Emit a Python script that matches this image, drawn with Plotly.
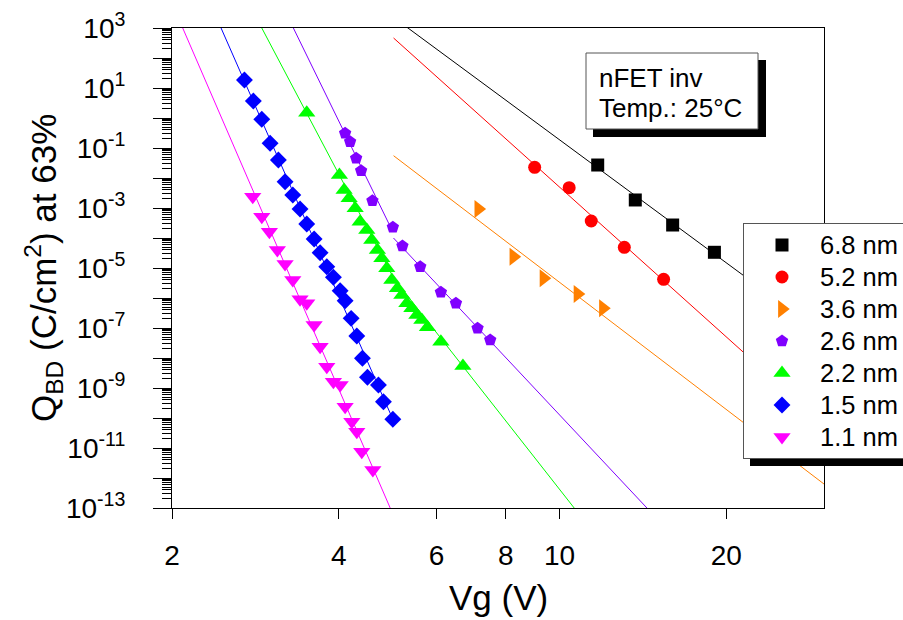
import plotly.graph_objects as go

# ---------------- data ----------------
labels = ["6.8 nm", "5.2 nm", "3.6 nm", "2.6 nm", "2.2 nm", "1.5 nm", "1.1 nm"]

vg_68 = [11.72, 13.70, 16.00, 19.03]
qbd_68 = [2.71e-2, 1.85e-3, 2.71e-4, 3.34e-5]

vg_52 = [9.02, 10.41, 11.41, 13.09, 15.41]
qbd_52 = [2.27e-2, 4.75e-3, 3.69e-4, 4.90e-5, 4.20e-6]

vg_36 = [7.14, 8.26, 9.36, 10.78, 11.98]
qbd_36 = [9.26e-4, 2.38e-5, 4.54e-6, 1.36e-6, 4.54e-7]

vg_26 = [4.105, 4.191, 4.297, 4.387, 4.598, 5.005, 5.208, 5.608, 6.110, 6.504, 7.115, 7.499]
qbd_26 = [3.09e-1, 1.62e-1, 4.54e-2, 1.75e-2, 1.75e-3, 2.27e-4, 5.41e-5, 1.10e-5,
          1.55e-6, 6.65e-7, 9.77e-8, 3.98e-8]

vg_22 = [3.500, 4.009, 4.088, 4.174, 4.280, 4.369, 4.492, 4.586, 4.694, 4.781, 4.881,
         4.984, 5.102, 5.196, 5.305, 5.416, 5.530, 5.646, 5.779, 6.110, 6.696]
qbd_22 = [1.50, 1.26e-2, 3.98e-3, 2.10e-3, 9.77e-4, 3.49e-4, 1.85e-4, 8.57e-5, 3.98e-5,
          2.10e-5, 9.77e-6, 3.98e-6, 2.10e-6, 1.26e-6, 6.65e-7, 4.54e-7, 2.71e-7,
          1.85e-7, 1.05e-7, 3.49e-8, 5.41e-9]

vg_15 = [2.702, 2.804, 2.904, 3.006, 3.111, 3.199, 3.303, 3.404, 3.500, 3.609, 3.700,
         3.804, 3.910, 4.021, 4.105, 4.209, 4.309, 4.411, 4.504, 4.714, 4.813, 5.005]
qbd_15 = [18.5, 3.69, 0.905, 0.1435, 3.98e-2, 7.53e-3, 2.71e-3, 9.26e-4, 2.93e-4,
          9.26e-5, 3.24e-5, 1.10e-5, 4.90e-6, 1.75e-6, 8.13e-7, 2.10e-7, 5.41e-8,
          9.77e-9, 2.27e-9, 1.26e-9, 3.49e-10, 9.06e-11]

vg_11 = [2.797, 2.904, 2.997, 3.098, 3.199, 3.303, 3.404, 3.500, 3.609, 3.700, 3.804,
         3.910, 4.021, 4.105, 4.221, 4.309, 4.399, 4.606]
qbd_11 = [2.38e-3, 5.13e-4, 1.62e-4, 3.98e-5, 1.36e-5, 3.98e-6, 9.05e-7, 6.65e-7,
          1.26e-7, 2.38e-8, 5.13e-9, 1.62e-9, 1.26e-9, 2.38e-10, 7.53e-11, 3.49e-11,
          7.53e-12, 1.85e-12]

# fit lines (end points)
fit_68_v, fit_68_q = [5.02, 30.0], [2.26e3, 5.9e-8]
fit_52_v, fit_52_q = [5.02, 30.0], [464.0, 6.0e-11]
fit_36_v, fit_36_q = [5.02, 30.0], [5.54e-2, 6.3e-13]
fit_26a_v, fit_26a_q = [3.311, 4.95], [1e3, 2.44e-4]
fit_26b_v, fit_26b_q = [5.018, 14.38], [1e-4, 1e-13]
fit_22_v, fit_22_q = [2.904, 5.02, 10.63], [1e3, 4.64e-6, 1e-13]
fit_15_v, fit_15_q = [2.452, 5.005], [1e3, 9.06e-11]
fit_11_v, fit_11_q = [2.091, 4.950], [1e3, 1e-13]

# ---------------- styling ----------------
colors = ["#000000", "#FF0000", "#FF8000", "#8000FF", "#00FF00", "#0000FF", "#FF00FF"]
symbols = ["square", "circle", "triangle-right", "pentagon", "triangle-up", "diamond", "triangle-down"]
sizes = [13, 13, 15.5, 13, 15, 13, 15]

FONT = "Arial, Liberation Sans, sans-serif"

series = [(vg_68, qbd_68), (vg_52, qbd_52), (vg_36, qbd_36), (vg_26, qbd_26),
          (vg_22, qbd_22), (vg_15, qbd_15), (vg_11, qbd_11)]
fits = [[(fit_68_v, fit_68_q)], [(fit_52_v, fit_52_q)], [(fit_36_v, fit_36_q)],
        [(fit_26a_v, fit_26a_q), (fit_26b_v, fit_26b_q)], [(fit_22_v, fit_22_q)],
        [(fit_15_v, fit_15_q)], [(fit_11_v, fit_11_q)]]

fig = go.Figure()
for i, segs in enumerate(fits):
    for fv, fq in segs:
        fig.add_trace(go.Scatter(x=fv, y=fq, mode="lines", showlegend=False,
                                 line=dict(color=colors[i], width=1), hoverinfo="skip"))
for i, (v, q) in enumerate(series):
    fig.add_trace(go.Scatter(
        x=v, y=q, mode="markers",
        name='<span style="font-size:25.5px">%s</span>' % labels[i],
        marker=dict(symbol=symbols[i], size=sizes[i], color=colors[i], line=dict(width=0))))

# plot area in pixels
L, R, T, B = 172, 824, 28, 508
W, H = 903, 620
def px(x):
    return (x - L) / (R - L)
def py(y):
    return (B - y) / (B - T)

major = list(range(-13, 4))
ytext = [("10<sup>%d</sup>" % e) if e % 2 != 0 else "" for e in major]
minor_vals = [m * 10.0 ** e for e in range(-13, 3) for m in range(2, 10)]

fig.update_layout(
    width=W, height=H,
    margin=dict(l=L, r=W - R, t=T, b=H - B, autoexpand=False),
    paper_bgcolor="white", plot_bgcolor="white",
    font=dict(family=FONT, color="black", size=26),
    xaxis=dict(type="log", range=[0.30103, 1.47712], showgrid=False, zeroline=False,
               showline=True, linecolor="black", linewidth=1, mirror=True,
               ticks="outside", ticklen=10, tickwidth=1, tickcolor="black",
               tickvals=[2, 4, 6, 8, 10, 20], ticktext=["2", "4", "6", "8", "10", "20"],
               tickfont=dict(size=28), ticklabelstandoff=12),
    yaxis=dict(type="log", range=[-13, 3], showgrid=False, zeroline=False,
               showline=True, linecolor="black", linewidth=1, mirror=True,
               ticks="outside", ticklen=18, tickwidth=1, tickcolor="black",
               tickvals=[10.0 ** e for e in major], ticktext=ytext,
               tickfont=dict(size=28), ticklabelstandoff=22,
               minor=dict(tickmode="array", tickvals=minor_vals, ticks="outside",
                          ticklen=9, tickwidth=1, tickcolor="black", showgrid=False)),
    legend=dict(x=px(743), y=py(223), xanchor="left", yanchor="top",
                bgcolor="white", bordercolor="#555555", borderwidth=1,
                font=dict(family=FONT, size=22.3), itemwidth=66),
    showlegend=True,
)

shapes = [
    # legend shadow (bottom strip visible)
    dict(type="rect", xref="paper", yref="paper", x0=px(750), x1=px(915), y0=py(400), y1=py(466),
         fillcolor="black", line=dict(width=0), layer="above"),
    # text box shadow
    dict(type="rect", xref="paper", yref="paper", x0=px(593), x1=px(766), y0=py(60), y1=py(137),
         fillcolor="black", line=dict(width=0), layer="above"),
    # text box
    dict(type="rect", xref="paper", yref="paper", x0=px(586), x1=px(758), y0=py(53), y1=py(129),
         fillcolor="white", line=dict(color="#555555", width=1), layer="above"),
]
fig.update_layout(shapes=shapes)

annotations = [
    dict(text="nFET inv", x=px(597), y=py(78), xref="paper", yref="paper",
         xanchor="left", yanchor="middle", showarrow=False, font=dict(size=26)),
    dict(text="Temp.: 25°C", x=px(597), y=py(108), xref="paper", yref="paper",
         xanchor="left", yanchor="middle", showarrow=False, font=dict(size=26)),
    dict(text="Vg (V)", x=0.5, y=py(597), xref="paper", yref="paper",
         xanchor="center", yanchor="middle", showarrow=False, font=dict(size=35)),
    dict(text="Q<sub>BD</sub> (C/cm<sup>2</sup>) at 63%", x=px(43), y=0.5, xref="paper",
         yref="paper", xanchor="center", yanchor="middle", textangle=-90, showarrow=False,
         font=dict(size=35)),
]
fig.update_layout(annotations=annotations)

fig.write_html("out.html", config={"displayModeBar": False},
               post_script="document.body.style.margin='0px';")
